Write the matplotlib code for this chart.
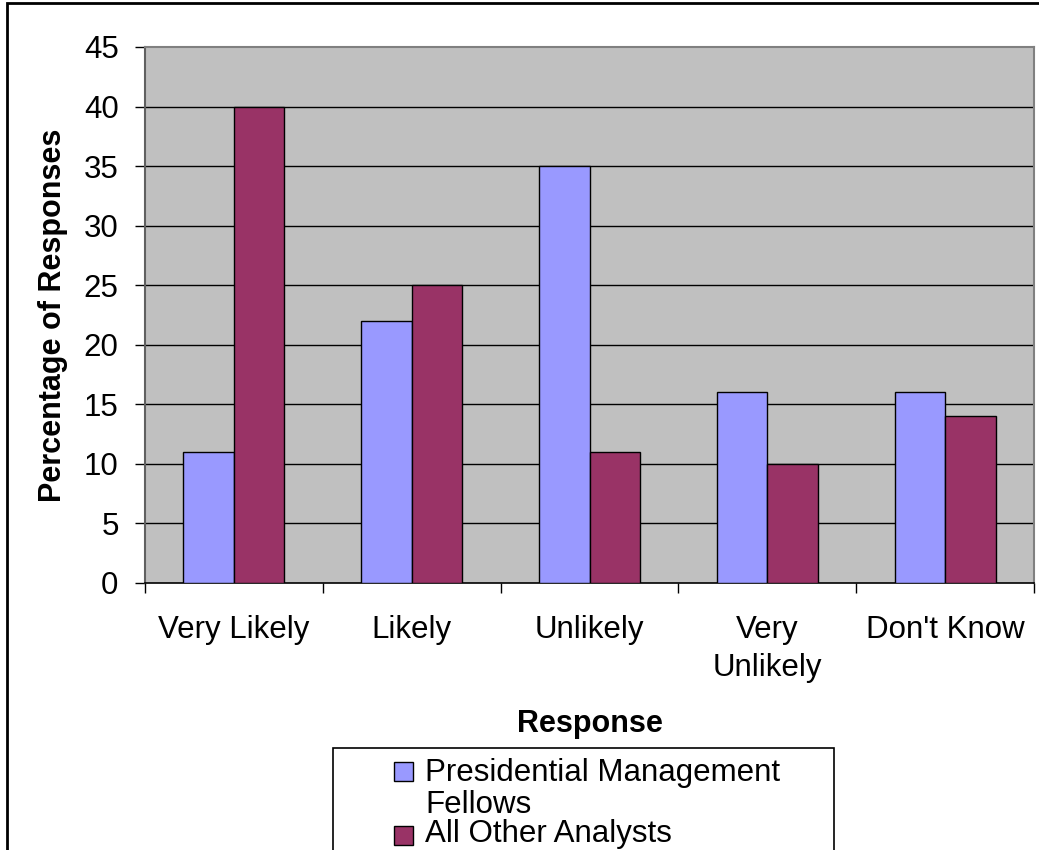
import matplotlib
matplotlib.use("Agg")
import matplotlib.pyplot as plt
from matplotlib.patches import Rectangle
import numpy as np

# data
categories = ["Very Likely", "Likely", "Unlikely", "Very\nUnlikely", "Don't Know"]
pmf_values = [11, 22, 35, 16, 16]
other_values = [40, 25, 11, 10, 14]
series_names = ["Presidential Management\nFellows", "All Other Analysts"]
series_colors = ["#9999FF", "#993366"]
y_ticks = [0, 5, 10, 15, 20, 25, 30, 35, 40, 45]

W, H = 1039, 850
plt.rcParams['font.family'] = ['Liberation Sans', 'DejaVu Sans']
plt.rcParams['font.size'] = 22.5

fig = plt.figure(figsize=(W / 100, H / 100), dpi=100)

def fx(px):
    return px / W

def fy(py):
    return 1 - py / H

# plot area in pixel coords of the reference
left, right, top, bottom = 145, 1034, 47, 583
ax = fig.add_axes([fx(left), fy(bottom), fx(right - left), fy(top) - fy(bottom)])
ax.set_facecolor("#C0C0C0")

x = np.arange(len(categories))
bw = 0.284
ax.bar(x - bw / 2, pmf_values, bw, color=series_colors[0], edgecolor="black", linewidth=1, zorder=3)
ax.bar(x + bw / 2, other_values, bw, color=series_colors[1], edgecolor="black", linewidth=1, zorder=3)

ax.set_xlim(-0.5, len(categories) - 0.5)
ax.set_ylim(0, 45)
ax.set_yticks(y_ticks)
ax.tick_params(axis="y", direction="out", length=7, width=1, pad=12, color="black")

# group separators as major ticks, labels on minor ticks
ax.set_xticks(np.arange(-0.5, len(categories), 1.0))
ax.set_xticklabels([])
ax.set_xticks(x, minor=True)
ax.set_xticklabels(categories, minor=True, linespacing=1.35)
ax.tick_params(axis="x", which="major", direction="out", length=7, width=1, color="black")
ax.tick_params(axis="x", which="minor", length=0, pad=23)

for v in y_ticks[1:-1]:
    ax.axhline(v, color="black", linewidth=1, zorder=1)

for side in ["top", "right"]:
    ax.spines[side].set_color("#808080")
    ax.spines[side].set_linewidth(1.5)
ax.spines["left"].set_color("#606060")
ax.spines["left"].set_linewidth(1.5)
ax.spines["bottom"].set_color("black")
ax.spines["bottom"].set_linewidth(1.2)

# axis titles
fig.text(fx(53), fy((top + bottom) / 2), "Percentage of Responses", rotation=90,
         ha="center", va="center", fontweight="bold", fontsize=22)
fig.text(fx((left + right) / 2), fy(724), "Response", ha="center", va="center",
         fontweight="bold", fontsize=22)

# legend box (cut off by the bottom of the picture, as in the reference)
fig.add_artist(Rectangle((fx(333), fy(900)), fx(834 - 333), fy(748) - fy(900),
                         transform=fig.transFigure, fill=False, edgecolor="black", linewidth=1.2))
sq = 19
fig.add_artist(Rectangle((fx(394), fy(762 + sq)), fx(sq), fy(762) - fy(762 + sq),
                         transform=fig.transFigure, facecolor=series_colors[0],
                         edgecolor="black", linewidth=1))
fig.add_artist(Rectangle((fx(394), fy(826 + sq)), fx(sq), fy(826) - fy(826 + sq),
                         transform=fig.transFigure, facecolor=series_colors[1],
                         edgecolor="black", linewidth=1))
# the first entry wraps onto two lines, marker beside the first one
first_lines = series_names[0].split("\n")
fig.text(fx(425), fy(781), first_lines[0], ha="left", va="baseline")
fig.text(fx(425), fy(813), first_lines[1], ha="left", va="baseline")
fig.text(fx(425), fy(842), series_names[1], ha="left", va="baseline")

# outer chart border, open to the right and bottom
fig.add_artist(Rectangle((fx(7), fy(900)), 1.2, fy(3) - fy(900),
                         transform=fig.transFigure, fill=False, edgecolor="black", linewidth=2))

fig.savefig("out.png", dpi=100)
